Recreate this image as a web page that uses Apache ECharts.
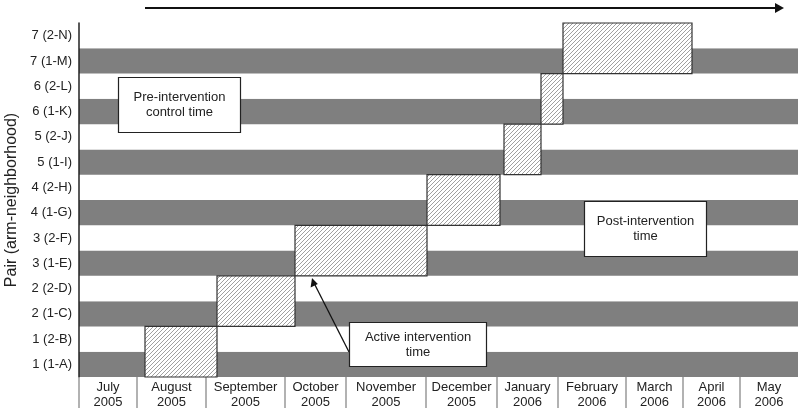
<!DOCTYPE html>
<html>
<head>
<meta charset="utf-8">
<script src="https://cdn.jsdelivr.net/npm/echarts@6/dist/echarts.min.js"></script>
<style>
  html, body { margin: 0; padding: 0; background: #fff; }
  #main { width: 800px; height: 414px; }
</style>
</head>
<body>
<div id="main"></div>
<script>
// rows, bottom to top
var rows = ['1 (1-A)', '1 (2-B)', '2 (1-C)', '2 (2-D)', '3 (1-E)', '3 (2-F)', '4 (1-G)',
            '4 (2-H)', '5 (1-I)', '5 (2-J)', '6 (1-K)', '6 (2-L)', '7 (1-M)', '7 (2-N)'];

// timeline position (arbitrary units) of each month column
var monthLabels = ['July\n2005', 'August\n2005', 'September\n2005', 'October\n2005', 'November\n2005',
                   'December\n2005', 'January\n2006', 'February\n2006', 'March\n2006', 'April\n2006', 'May\n2006'];
var monthEdges = [0, 58, 127, 206, 267, 347, 418, 479, 547, 604, 661, 719];

// active intervention period per pair: [start, end]
var pairNames = ['1', '2', '3', '4', '5', '6', '7'];
var activeStart = [66, 138, 216, 348, 425, 462, 484];
var activeEnd = [138, 216, 348, 421, 462, 484, 613];

var font = '"Liberation Sans", Arial, sans-serif';

// diagonal hatch
var S = 4;
var pat = document.createElement('canvas');
pat.width = pat.height = S;
var ctx = pat.getContext('2d');
ctx.fillStyle = '#fff';
ctx.fillRect(0, 0, S, S);
ctx.strokeStyle = '#a0a0a0';
ctx.lineWidth = 1;
ctx.beginPath();
ctx.moveTo(0, S); ctx.lineTo(S, 0);
ctx.moveTo(-1, 1); ctx.lineTo(1, -1);
ctx.moveTo(S - 1, S + 1); ctx.lineTo(S + 1, S - 1);
ctx.stroke();

var boxData = pairNames.map(function (p, i) {
    return [activeStart[i], activeEnd[i], i * 2];
});
var monthData = monthLabels.map(function (m, i) {
    return [monthEdges[i], monthEdges[i + 1]];
});

var myChart = echarts.init(document.getElementById('main'));

option = {
    animation: false,
    grid: { left: 79, right: 2, top: 23, bottom: 37, outerBoundsMode: 'none', containLabel: false },
    xAxis: {
        type: 'value',
        min: 0,
        max: 719,
        show: false
    },
    yAxis: {
        type: 'category',
        data: rows,
        name: 'Pair (arm-neighborhood)',
        nameLocation: 'middle',
        nameGap: 56,
        nameTextStyle: { fontFamily: font, fontSize: 16, color: '#222' },
        axisLine: { lineStyle: { color: '#222', width: 1.5 } },
        axisTick: { show: false },
        axisLabel: { fontFamily: font, fontSize: 13, color: '#222', margin: 7 },
        splitLine: { show: false },
        splitArea: { show: true, areaStyle: { color: ['#7f7f7f', '#ffffff'] } }
    },
    series: [{
        type: 'custom',
        name: 'active',
        encode: { x: [0, 1], y: 2 },
        data: boxData,
        z: 3,
        renderItem: function (params, api) {
            var band = api.size([0, 1])[1];
            var a = api.coord([api.value(0), api.value(2)]);
            var b = api.coord([api.value(1), api.value(2) + 1]);
            return {
                type: 'rect',
                shape: { x: a[0], y: b[1] - band / 2, width: b[0] - a[0], height: a[1] - b[1] + band },
                style: {
                    fill: { image: pat, repeat: 'repeat' },
                    stroke: '#333',
                    lineWidth: 1.2
                }
            };
        }
    }, {
        type: 'custom',
        name: 'months',
        encode: { x: [0, 1] },
        data: monthData,
        clip: false,
        silent: true,
        renderItem: function (params, api) {
            var cs = params.coordSys;
            var bottom = cs.y + cs.height;
            var x0 = api.coord([api.value(0), 0])[0];
            var x1 = api.coord([api.value(1), 0])[0];
            return {
                type: 'group',
                children: [{
                    type: 'line',
                    shape: { x1: x0, y1: bottom, x2: x0, y2: bottom + 31 },
                    style: { stroke: '#999', lineWidth: 1.5 }
                }, {
                    type: 'text',
                    style: {
                        x: (x0 + x1) / 2,
                        y: bottom + 3,
                        text: monthLabels[params.dataIndex],
                        align: 'center',
                        verticalAlign: 'top',
                        font: '13px ' + font,
                        fill: '#222',
                        lineHeight: 15
                    }
                }]
            };
        }
    }],
    graphic: [
        // timeline arrow
        { type: 'line', shape: { x1: 145, y1: 8, x2: 776, y2: 8 }, style: { stroke: '#111', lineWidth: 2 } },
        { type: 'polygon', shape: { points: [[775, 3], [784, 8], [775, 13]] }, style: { fill: '#111' } },
        // labels
        { type: 'rect', shape: { x: 118.5, y: 77.5, width: 122, height: 55 }, style: { fill: '#fff', stroke: '#222', lineWidth: 1.2 }, z: 10 },
        { type: 'text', x: 179.5, y: 105, style: { text: 'Pre-intervention\ncontrol time', align: 'center', verticalAlign: 'middle', font: '13px ' + font, fill: '#222', lineHeight: 15 }, z: 11 },
        { type: 'rect', shape: { x: 584.5, y: 201.5, width: 122, height: 55 }, style: { fill: '#fff', stroke: '#222', lineWidth: 1.2 }, z: 10 },
        { type: 'text', x: 645.5, y: 229, style: { text: 'Post-intervention\ntime', align: 'center', verticalAlign: 'middle', font: '13px ' + font, fill: '#222', lineHeight: 15 }, z: 11 },
        { type: 'line', shape: { x1: 349, y1: 352, x2: 314, y2: 283 }, style: { stroke: '#111', lineWidth: 1.3 }, z: 10 },
        { type: 'polygon', shape: { points: [[312, 278], [310.6, 287.6], [317.8, 284]] }, style: { fill: '#111' }, z: 10 },
        { type: 'rect', shape: { x: 349.5, y: 322.5, width: 137, height: 44 }, style: { fill: '#fff', stroke: '#222', lineWidth: 1.2 }, z: 10 },
        { type: 'text', x: 418, y: 345, style: { text: 'Active intervention\ntime', align: 'center', verticalAlign: 'middle', font: '13px ' + font, fill: '#222', lineHeight: 15 }, z: 11 }
    ]
};
myChart.setOption(option);
</script>
</body>
</html>
